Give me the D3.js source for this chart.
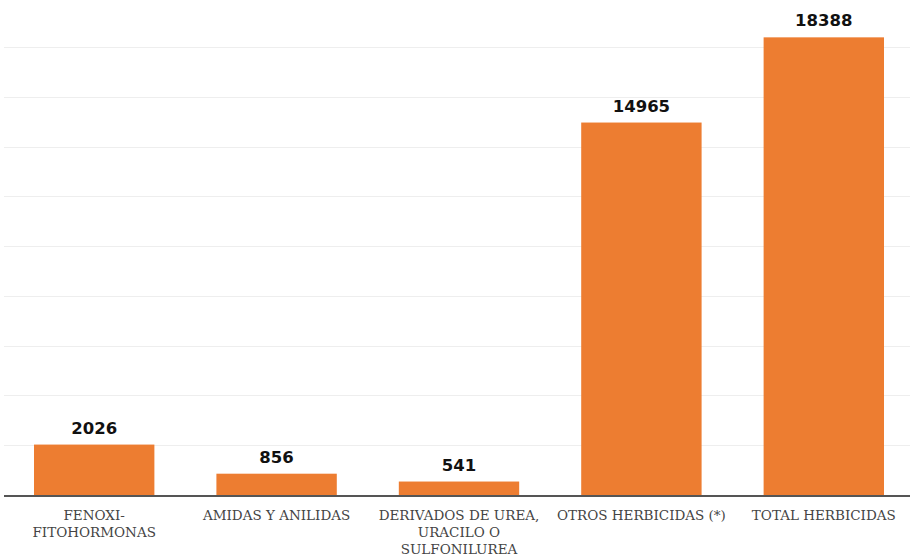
<!DOCTYPE html>
<html>
<head>
<meta charset="utf-8">
<script src="https://cdn.jsdelivr.net/npm/d3@7"></script>
<style>
  body { margin: 0; background: #fff; }
</style>
</head>
<body>
<script>
// Categories and values
var categories = [
    ["FENOXI-", "FITOHORMONAS"],
    ["AMIDAS Y ANILIDAS"],
    ["DERIVADOS DE UREA,", "URACILO O", "SULFONILUREA"],
    ["OTROS HERBICIDAS (*)"],
    ["TOTAL HERBICIDAS"]
];
var values = [2026, 856, 541, 14965, 18388];
var gridTicks = [2000, 4000, 6000, 8000, 10000, 12000, 14000, 16000, 18000];

var width = 910, height = 558;
var baseY = 495;

var svg = d3.select("body").append("svg")
    .attr("width", width)
    .attr("height", height);

var keys = categories.map(function (d) { return d.join(" "); });

var x = d3.scaleBand()
    .domain(keys)
    .range([3, 915])
    .paddingInner(0.34)
    .paddingOuter(0.17);

var y = d3.scaleLinear()
    .domain([0, 18000])
    .range([baseY, 47]);

// Gridlines
svg.append("g")
    .selectAll("line")
    .data(gridTicks)
    .enter().append("line")
    .attr("x1", 4)
    .attr("x2", width)
    .attr("y1", function (d) { return Math.round(y(d)) + 0.5; })
    .attr("y2", function (d) { return Math.round(y(d)) + 0.5; })
    .style("stroke", "#eeeeee")
    .style("stroke-width", 1);

// Bars
svg.selectAll(".bar")
    .data(values)
    .enter().append("rect")
    .attr("class", "bar")
    .attr("x", function (d, i) { return x(keys[i]); })
    .attr("width", x.bandwidth())
    .attr("y", function (d) { return y(d); })
    .attr("height", function (d) { return baseY - y(d); })
    .style("fill", "#ED7D31");

// Value labels
svg.selectAll(".val")
    .data(values)
    .enter().append("text")
    .attr("class", "val")
    .attr("x", function (d, i) { return x(keys[i]) + x.bandwidth() / 2; })
    .attr("y", function (d) { return y(d) - 11; })
    .attr("text-anchor", "middle")
    .style("font-family", "DejaVu Sans")
    .style("font-weight", "bold")
    .style("font-size", "16.5px")
    .style("fill", "#111")
    .text(function (d) { return d; });

// Baseline
svg.append("line")
    .attr("x1", 4)
    .attr("x2", width)
    .attr("y1", baseY + 1)
    .attr("y2", baseY + 1)
    .style("stroke", "#555")
    .style("stroke-width", 2);

// Category labels
var labels = svg.selectAll(".cat")
    .data(categories)
    .enter().append("text")
    .attr("class", "cat")
    .attr("text-anchor", "middle")
    .style("font-family", "DejaVu Serif")
    .style("font-size", "13.5px")
    .style("fill", "#444");

labels.selectAll("tspan")
    .data(function (d, i) { return d.map(function (t) { return { t: t, i: i }; }); })
    .enter().append("tspan")
    .attr("x", function (d) { return x(keys[d.i]) + x.bandwidth() / 2; })
    .attr("y", function (d, j) { return 520 + j * 17; })
    .text(function (d) { return d.t; });
</script>
</body>
</html>
